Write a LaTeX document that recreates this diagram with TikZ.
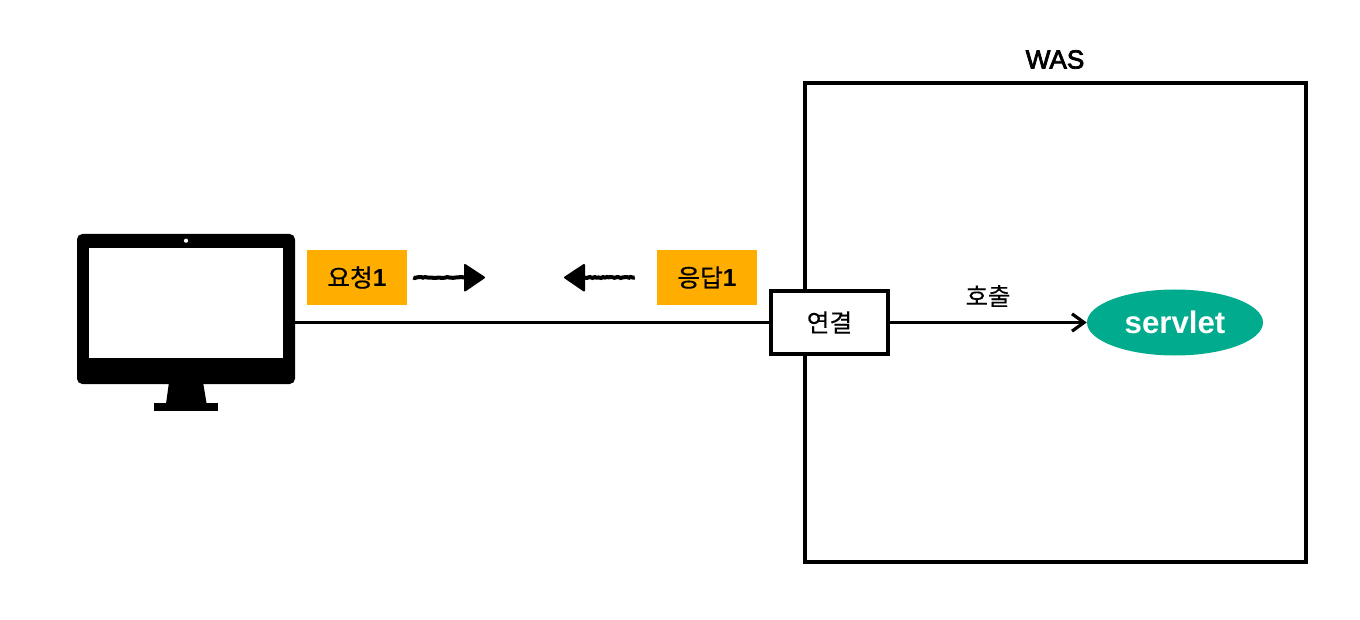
\documentclass[tikz,border=0pt]{standalone}
\usepackage{fontspec}
\setmainfont{Liberation Sans}
\newfontfamily\krfont[FakeBold=0.25]{Noto Sans CJK KR}
\newfontfamily\krmed[FakeBold=0.6]{Noto Sans CJK KR}
\newfontfamily\wasfont[FakeBold=3]{Liberation Sans}
\usetikzlibrary{shapes.geometric,arrows.meta,decorations.pathmorphing}
\definecolor{tagorange}{HTML}{FFAE00}
\definecolor{servgreen}{HTML}{00AB8E}
\tikzset{
  px/.style={x=0.75pt,y=-0.75pt},
  tag/.style={fill=tagorange,minimum width=75pt,minimum height=41.25pt,inner sep=0pt,font=\fontsize{18.5}{20}\selectfont},
  wire/.style={draw=black,line width=2.25pt},
  boxline/.style={draw=black,line width=3pt},
  rough/.style={draw=black,line width=3pt,decorate,decoration={random steps,segment length=1.5pt,amplitude=0.4pt}},
  roughhead/.style={fill=black,draw=black,line width=1.5pt,line join=round},
  label/.style={font=\fontsize{18.2}{20}\selectfont,inner sep=0pt}
}
\begin{document}
\begin{tikzpicture}[px]
\useasboundingbox (0,0) rectangle (1360,620);
% WAS box
\node[boxline,minimum width=375.75pt,minimum height=358.5pt,inner sep=0pt,outer sep=0pt,fill=white] (was) at (1055.5,322.5) {};
\node[font=\fontsize{19.6}{22}\selectfont\wasfont,inner sep=0pt] (waslabel) at (1055,59.5) {WAS};
% monitor
\fill[black] (169.3,380) -- (202.7,380) -- (206.7,404) -- (166,404) -- cycle;
\fill[black] (154.3,403.3) rectangle (217.7,410.7);
\node[fill=black,rounded corners=4pt,minimum width=163.5pt,minimum height=112.5pt,inner sep=0pt] (monitor) at (186,309) {};
\fill[white] (89.3,248.3) rectangle (282.7,358.3);
\fill[white] (186,240.7) circle (2.1);
% tags
\node[tag] (req) at (357,277.5) {{\krmed 요청}\textbf{1}};
\node[tag] (res) at (707,277.5) {{\krmed 응답}\textbf{1}};
% rough arrows
\coordinate (reqend) at (465,277.5);
\coordinate (resend) at (584,277.5);
\draw[rough] (req.east) ++(6,0) -- (reqend);
\draw[rough] (res.west) ++(-22,0) -- (resend);
\filldraw[roughhead] (465,265) -- (484,277.5) -- (465,290.5) -- cycle;
\filldraw[roughhead] (584,265) -- (565,277.5) -- (584,290.5) -- cycle;
% connection box, ellipse
\node[boxline,fill=white,minimum width=87.75pt,minimum height=46.5pt,inner sep=0pt,outer sep=0pt,font=\fontsize{18.5}{20}\selectfont] (conn) at (829.5,322.5) {\krfont 연결};
\node[ellipse,fill=servgreen,text=white,minimum width=132pt,minimum height=49.5pt,inner sep=0pt,font=\fontsize{23.4}{24}\selectfont\bfseries] (servlet) at (1175,322.5) {servlet};
\draw[wire] (monitor.east |- conn) -- (conn.west);
\draw[wire,-{Straight Barb[length=9pt,width=13pt,line width=2.4pt]}] (conn.east) -- (servlet.west);
\node[label] (call) at (988,296) {\krfont 호출};
\end{tikzpicture}
\end{document}
